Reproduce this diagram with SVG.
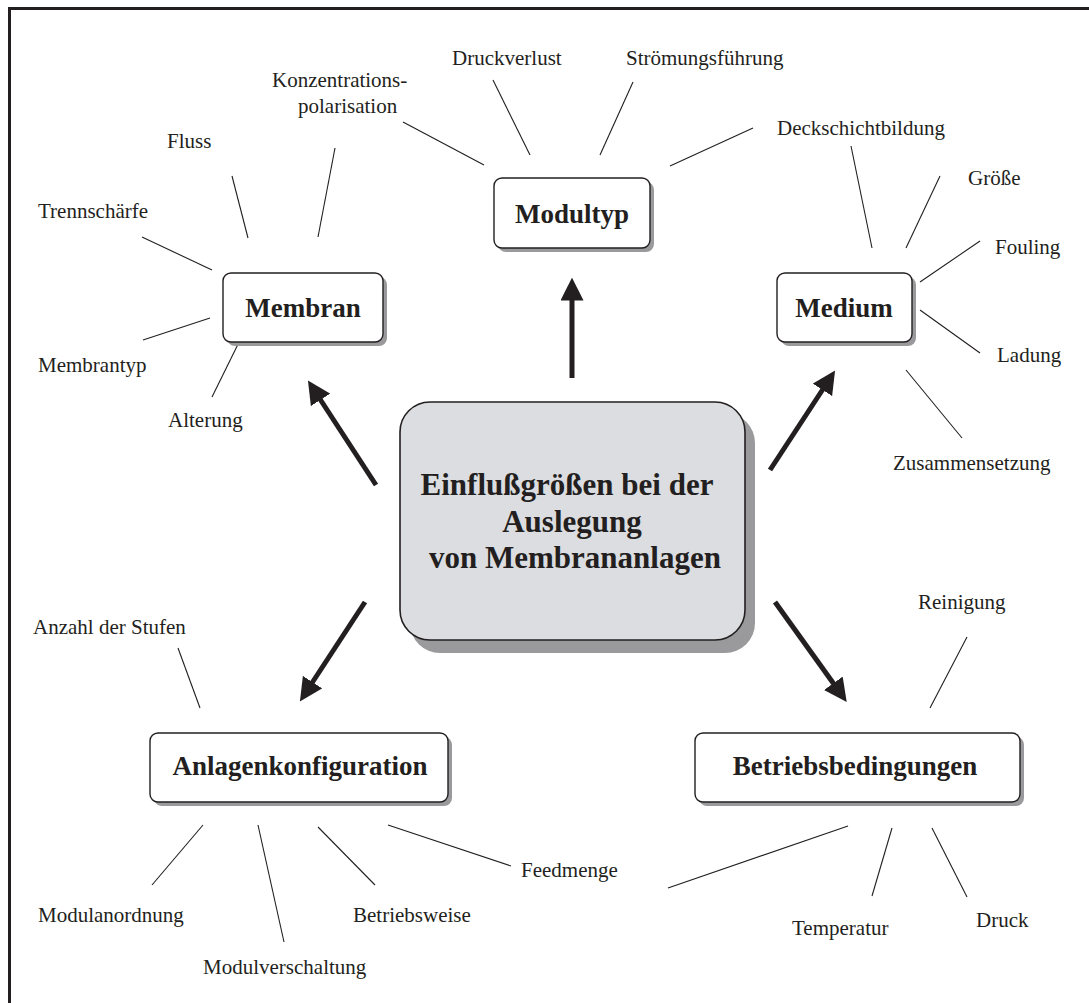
<svg xmlns="http://www.w3.org/2000/svg" width="1089" height="1003" viewBox="0 0 1089 1003">
  <style>
    .lbl { font-family: "Liberation Serif", "Times New Roman", serif; font-size: 21px; fill: #231f20; }
    .hd { font-family: "Liberation Serif", "Times New Roman", serif; font-size: 27px; font-weight: bold; fill: #231f20; text-anchor: middle; }
    .ctr { font-family: "Liberation Serif", "Times New Roman", serif; font-size: 31px; font-weight: bold; fill: #231f20; text-anchor: middle; }
    .box { fill: #ffffff; stroke: #231f20; stroke-width: 1.4; }
    .shadow { fill: #9a9a9c; }
    .spoke { stroke: #231f20; stroke-width: 1.1; fill: none; }
    .arrow { stroke: #231f20; stroke-width: 5; fill: none; marker-end: url(#head); }
  </style>
  <defs>
    <marker id="head" viewBox="0 0 10 10" refX="2" refY="5" markerWidth="4.6" markerHeight="4.6" orient="auto" markerUnits="strokeWidth">
      <path d="M0,0 L10,5 L0,10 Z" fill="#231f20"/>
    </marker>
  </defs>

  <rect width="1089" height="1003" fill="#ffffff"/>
  <!-- frame (top and left edges) -->
  <path d="M9.5,1003 V8.5 H1089" fill="none" stroke="#231f20" stroke-width="3"/>

  <!-- connectors -->
  <g id="connectors">
    <!-- thick arrows from the centre -->
    <line class="arrow" x1="572" y1="378" x2="572" y2="296"/>
    <line class="arrow" x1="376" y1="485" x2="318" y2="396"/>
    <line class="arrow" x1="770" y1="470" x2="825" y2="386"/>
    <line class="arrow" x1="365" y1="602" x2="310" y2="686"/>
    <line class="arrow" x1="775" y1="602" x2="836" y2="687"/>

    <!-- Membran spokes -->
    <line class="spoke" x1="232" y1="176" x2="248" y2="238"/>
    <line class="spoke" x1="335" y1="148" x2="318" y2="237"/>
    <line class="spoke" x1="142" y1="237" x2="212" y2="270"/>
    <line class="spoke" x1="143" y1="340" x2="210" y2="318"/>
    <line class="spoke" x1="212" y1="397" x2="246" y2="328"/>

    <!-- Modultyp spokes -->
    <line class="spoke" x1="403" y1="122" x2="484" y2="165"/>
    <line class="spoke" x1="493" y1="80" x2="530" y2="155"/>
    <line class="spoke" x1="633" y1="82" x2="600" y2="155"/>
    <line class="spoke" x1="670" y1="166" x2="753" y2="128"/>

    <!-- Medium spokes -->
    <line class="spoke" x1="851" y1="146" x2="872" y2="248"/>
    <line class="spoke" x1="940" y1="176" x2="906" y2="248"/>
    <line class="spoke" x1="980" y1="241" x2="920" y2="282"/>
    <line class="spoke" x1="980" y1="353" x2="920" y2="310"/>
    <line class="spoke" x1="962" y1="438" x2="906" y2="370"/>

    <!-- Anlagenkonfiguration spokes -->
    <line class="spoke" x1="178" y1="648" x2="200" y2="708"/>
    <line class="spoke" x1="152" y1="885" x2="203" y2="825"/>
    <line class="spoke" x1="284" y1="942" x2="258" y2="825"/>
    <line class="spoke" x1="375" y1="885" x2="318" y2="827"/>
    <line class="spoke" x1="388" y1="825" x2="511" y2="866"/>

    <!-- Betriebsbedingungen spokes -->
    <line class="spoke" x1="967" y1="637" x2="930" y2="708"/>
    <line class="spoke" x1="668" y1="888" x2="848" y2="826"/>
    <line class="spoke" x1="872" y1="896" x2="892" y2="828"/>
    <line class="spoke" x1="967" y1="897" x2="932" y2="828"/>
  </g>

  <!-- central node -->
  <g id="center">
    <rect class="shadow" x="410" y="413" width="345" height="240" rx="30"/>
    <rect x="400" y="402" width="345" height="238" rx="30" fill="#dcdde0" stroke="#231f20" stroke-width="1.6"/>
    <text class="ctr" x="567" y="495">Einflußgrößen bei der</text>
    <text class="ctr" x="572" y="532">Auslegung</text>
    <text class="ctr" x="575" y="568">von Membrananlagen</text>
  </g>

  <g id="modultyp">
    <rect class="shadow" x="498" y="182" width="156" height="70" rx="8"/>
    <rect class="box" x="494" y="178" width="156" height="70" rx="8"/>
    <text class="hd" x="572" y="223">Modultyp</text>
  </g>

  <g id="membran">
    <rect class="shadow" x="227" y="277" width="160" height="69" rx="8"/>
    <rect class="box" x="223" y="273" width="160" height="69" rx="8"/>
    <text class="hd" x="303" y="317">Membran</text>
  </g>

  <g id="medium">
    <rect class="shadow" x="781" y="277" width="135" height="69" rx="8"/>
    <rect class="box" x="777" y="273" width="135" height="69" rx="8"/>
    <text class="hd" x="844" y="317">Medium</text>
  </g>

  <g id="anlagenkonfiguration">
    <rect class="shadow" x="154" y="737" width="298" height="69" rx="8"/>
    <rect class="box" x="150" y="733" width="298" height="69" rx="8"/>
    <text class="hd" x="300" y="775">Anlagenkonfiguration</text>
  </g>

  <g id="betriebsbedingungen">
    <rect class="shadow" x="699" y="737" width="325" height="69" rx="8"/>
    <rect class="box" x="695" y="733" width="325" height="69" rx="8"/>
    <text class="hd" x="855" y="775">Betriebsbedingungen</text>
  </g>

  <!-- labels -->
  <g id="labels">
    <text class="lbl" x="167" y="148">Fluss</text>
    <text class="lbl" x="272" y="87">Konzentrations-</text>
    <text class="lbl" x="298" y="113">polarisation</text>
    <text class="lbl" x="38" y="218">Trennschärfe</text>
    <text class="lbl" x="38" y="372">Membrantyp</text>
    <text class="lbl" x="168" y="427">Alterung</text>

    <text class="lbl" x="452" y="65">Druckverlust</text>
    <text class="lbl" x="626" y="65">Strömungsführung</text>
    <text class="lbl" x="777" y="135">Deckschichtbildung</text>

    <text class="lbl" x="968" y="185">Größe</text>
    <text class="lbl" x="995" y="254">Fouling</text>
    <text class="lbl" x="997" y="362">Ladung</text>
    <text class="lbl" x="893" y="470">Zusammensetzung</text>

    <text class="lbl" x="33" y="634">Anzahl der Stufen</text>
    <text class="lbl" x="38" y="922">Modulanordnung</text>
    <text class="lbl" x="203" y="974">Modulverschaltung</text>
    <text class="lbl" x="353" y="922">Betriebsweise</text>
    <text class="lbl" x="521" y="877">Feedmenge</text>

    <text class="lbl" x="918" y="609">Reinigung</text>
    <text class="lbl" x="792" y="935">Temperatur</text>
    <text class="lbl" x="976" y="927">Druck</text>
  </g>
</svg>
